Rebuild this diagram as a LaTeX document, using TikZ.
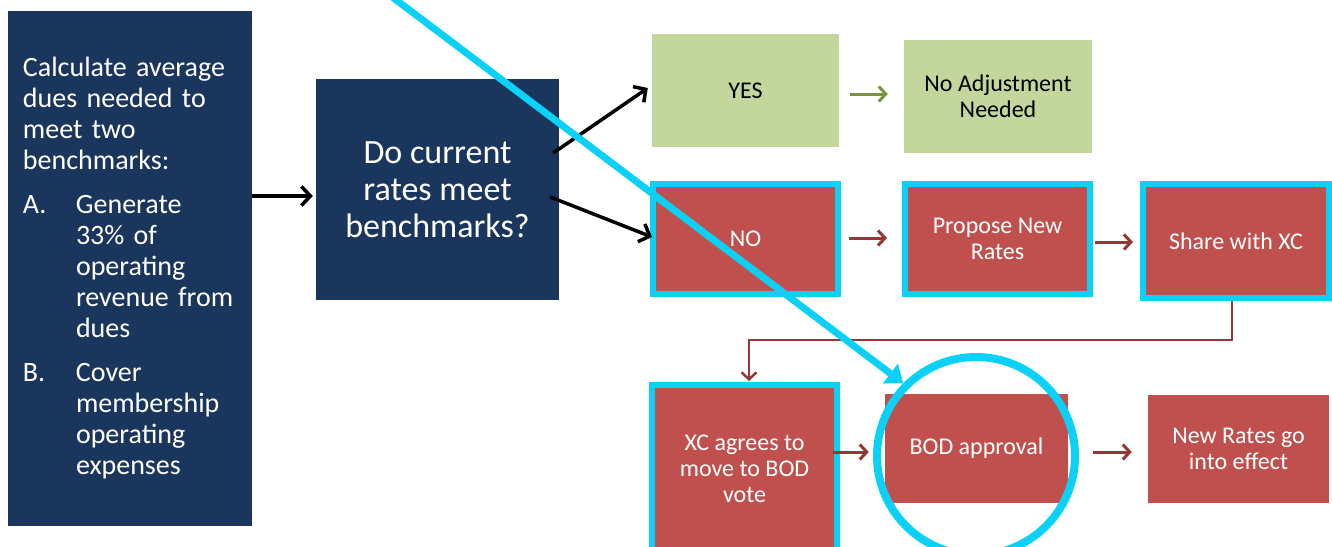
\documentclass[tikz,border=0pt]{standalone}
\usepackage{fontspec}
\setmainfont{Carlito}
\usetikzlibrary{arrows.meta}
\definecolor{navy}{HTML}{1B365D}
\definecolor{boxred}{HTML}{C0504D}
\definecolor{boxgreen}{HTML}{C3D69B}
\definecolor{hicyan}{HTML}{0CD1F7}
\definecolor{arrred}{HTML}{953735}
\definecolor{arrgreen}{HTML}{77933C}
\begin{document}
\begin{tikzpicture}[x=1pt,y=-1pt,
  navybox/.style={fill=navy, text=white, inner sep=0pt, align=center},
  greenbox/.style={fill=boxgreen, text=black, inner sep=0pt, align=center, font=\fontsize{24}{26}\selectfont},
  redbox/.style={fill=boxred, text=white, inner sep=0pt, align=center, font=\fontsize{24}{26}\selectfont},
  hl/.style={draw=hicyan, line width=6pt},
  blackarrow/.style={draw=black, line width=3.5pt, -{Straight Barb[length=9pt,width=19pt]}},
  redarrow/.style={draw=arrred, line width=3pt, -{Straight Barb[length=7pt,width=15pt]}},
  greenarrow/.style={draw=arrgreen, line width=3pt, -{Straight Barb[length=7pt,width=15pt]}},
  cyanarrow/.style={draw=hicyan, line width=7pt, -{Triangle[length=16pt,width=24pt]}},
]
\useasboundingbox (0,0) rectangle (1332,546);
\clip (0,0) rectangle (1332,546);
\fill[white] (0,0) rectangle (1332,546);

% left box
\node[navybox, minimum width=244pt, minimum height=515pt, text width=214pt, inner xsep=15pt, align=left, font=\fontsize{28}{31}\selectfont] (calc) at (130,268.5)
 {Calculate average\\dues needed to\\meet two\\benchmarks:\\[13pt]%
  \makebox[53pt][l]{A.}Generate\\\hspace*{53pt}33\% of\\\hspace*{53pt}operating\\\hspace*{53pt}revenue from\\\hspace*{53pt}dues\\[13pt]%
  \makebox[53pt][l]{B.}Cover\\\hspace*{53pt}membership\\\hspace*{53pt}operating\\\hspace*{53pt}expenses};

% question
\node[navybox, minimum width=243pt, minimum height=221pt, font=\fontsize{34}{37}\selectfont] (q) at (437.5,189.5) {Do current\\rates meet\\benchmarks?};

% green row
\node[greenbox, minimum width=187pt, minimum height=113pt] (yes) at (745.5,90.5) {YES};
\node[greenbox, minimum width=188pt, minimum height=113pt] (noadj) at (998,96.5) {No Adjustment\\Needed};

% red row 1
\node[redbox, hl, minimum width=185pt, minimum height=110pt] (no) at (745.5,239) {NO};
\node[redbox, hl, minimum width=185pt, minimum height=110pt] (prop) at (997.5,239) {Propose New\\Rates};
\node[redbox, hl, minimum width=186pt, minimum height=114pt] (share) at (1236,241) {Share with XC};

% red row 2
\node[redbox, hl, minimum width=185pt, minimum height=167pt] (xc) at (744.5,468.5) {XC agrees to\\move to BOD\\vote};
\node[redbox, minimum width=183pt, minimum height=109pt] (bod) at (976.5,448.5) {BOD approval};
\node[redbox, minimum width=181pt, minimum height=108pt] (newr) at (1238.5,449) {New Rates go\\into effect};

% connectors
\draw[blackarrow] ([yshift=72.5pt]calc.east) -- ([yshift=-6.5pt,xshift=-3pt]q.west);
\draw[blackarrow] ([xshift=-6pt,yshift=36.5pt]q.east) -- ([xshift=-4pt,yshift=2.5pt]yes.west);
\draw[blackarrow] ([xshift=-9pt,yshift=-7.5pt]q.east) -- ([xshift=2pt,yshift=2pt]no.west);
\draw[greenarrow, shorten <=11pt, shorten >=16pt] ([yshift=-3.5pt]yes.east) -- ([yshift=2.5pt]noadj.west);
\draw[redarrow, shorten <=8pt, shorten >=15pt] ([yshift=1pt]no.east) -- ([yshift=1pt]prop.west);
\draw[redarrow, shorten <=2pt, shorten >=7pt] ([yshift=-3pt]prop.east) -- ([yshift=-1pt]share.west);
\draw[redarrow, line width=2.5pt] ([xshift=-4pt]share.south) -- ++(0,39) -| ([xshift=4.5pt,yshift=1pt]xc.north);
\draw[redarrow, shorten <=-7pt, shorten >=16pt] ([yshift=16.5pt]xc.east) -- ([yshift=-3.5pt]bod.west);
\draw[redarrow, shorten <=25pt, shorten >=16pt] ([yshift=-3.5pt]bod.east) -- ([yshift=-3pt]newr.west);

% cyan highlight
\node[circle, draw=hicyan, line width=8pt, minimum size=198pt, inner sep=0pt] (ring) at (976,456) {};
\coordinate (cstart) at (383,-10);
\draw[cyanarrow] (cstart) -- (ring.135);
\end{tikzpicture}
\end{document}
